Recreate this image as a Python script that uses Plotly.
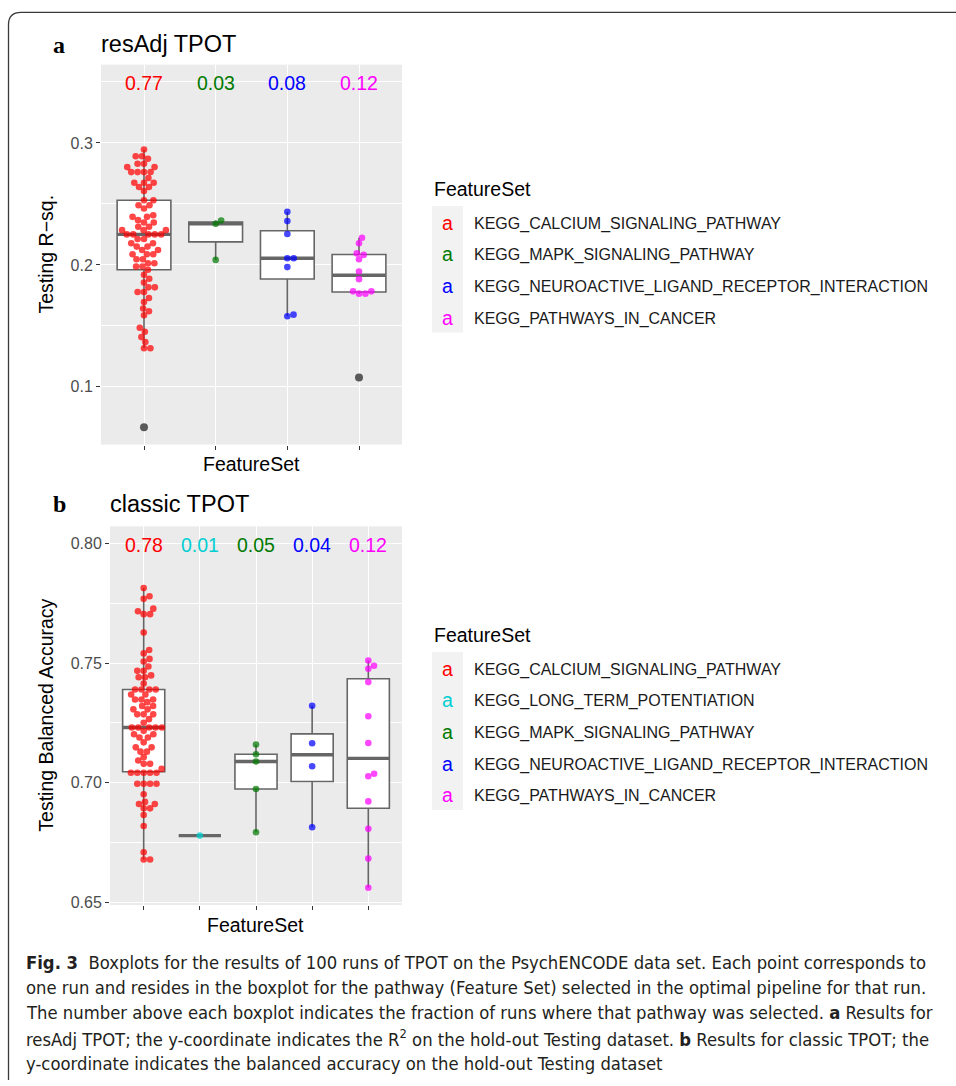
import math
import numpy as np
import plotly.graph_objects as go

# ---------------- data ----------------
PATHWAYS_A = ["KEGG_CALCIUM_SIGNALING_PATHWAY", "KEGG_MAPK_SIGNALING_PATHWAY",
              "KEGG_NEUROACTIVE_LIGAND_RECEPTOR_INTERACTION", "KEGG_PATHWAYS_IN_CANCER"]
PATHWAYS_B = ["KEGG_CALCIUM_SIGNALING_PATHWAY", "KEGG_LONG_TERM_POTENTIATION", "KEGG_MAPK_SIGNALING_PATHWAY",
              "KEGG_NEUROACTIVE_LIGAND_RECEPTOR_INTERACTION", "KEGG_PATHWAYS_IN_CANCER"]

FRACTION_A = ["0.77", "0.03", "0.08", "0.12"]
FRACTION_B = ["0.78", "0.01", "0.05", "0.04", "0.12"]

RESADJ_CALCIUM = [0.0669, 0.1316, 0.1316, 0.1367, 0.1408, 0.1452, 0.1484, 0.1587, 0.1620, 0.1642,
                  0.1696, 0.1729, 0.1778, 0.1778, 0.1816, 0.1816, 0.1856, 0.1886, 0.1919, 0.1960,
                  0.1987, 0.1987, 0.2014, 0.2014, 0.2046, 0.2046, 0.2087, 0.2087, 0.2087, 0.2122,
                  0.2122, 0.2150, 0.2150, 0.2177, 0.2177, 0.2212, 0.2212, 0.2250, 0.2250, 0.2250,
                  0.2250, 0.2250, 0.2285, 0.2285, 0.2285, 0.2313, 0.2313, 0.2348, 0.2348, 0.2367,
                  0.2394, 0.2394, 0.2407, 0.2462, 0.2489, 0.2489, 0.2530, 0.2530, 0.2606, 0.2639,
                  0.2639, 0.2674, 0.2674, 0.2674, 0.2712, 0.2761, 0.2761, 0.2761, 0.2761, 0.2802,
                  0.2802, 0.2829, 0.2829, 0.2870, 0.2891, 0.2891, 0.2946]
RESADJ_MAPK = [0.2041, 0.2337, 0.2364]
RESADJ_NEURO = [0.1579, 0.1592, 0.1982, 0.2055, 0.2055, 0.2253, 0.2359, 0.2435]
RESADJ_CANCER = [0.1077, 0.1764, 0.1764, 0.1783, 0.1783, 0.1883, 0.1946, 0.2046, 0.2082, 0.2095,
                 0.2177, 0.2223]

CLASSIC_CALCIUM = [0.6679, 0.6679, 0.6709, 0.6819, 0.6865, 0.6893, 0.6893, 0.6911, 0.6911, 0.6920,
                   0.6952, 0.6996, 0.6996, 0.6996, 0.6996, 0.7042, 0.7042, 0.7042, 0.7042, 0.7042,
                   0.7058, 0.7079, 0.7079, 0.7093, 0.7107, 0.7130, 0.7130, 0.7148, 0.7148, 0.7169,
                   0.7189, 0.7189, 0.7203, 0.7203, 0.7217, 0.7231, 0.7231, 0.7231, 0.7231, 0.7231,
                   0.7251, 0.7266, 0.7286, 0.7286, 0.7286, 0.7307, 0.7307, 0.7321, 0.7321, 0.7337,
                   0.7348, 0.7348, 0.7348, 0.7369, 0.7369, 0.7390, 0.7390, 0.7390, 0.7390, 0.7415,
                   0.7441, 0.7441, 0.7449, 0.7468, 0.7468, 0.7486, 0.7507, 0.7518, 0.7541, 0.7555,
                   0.7628, 0.7705, 0.7705, 0.7717, 0.7728, 0.7769, 0.7780, 0.7814]
CLASSIC_LTP = [0.6779]
CLASSIC_MAPK = [0.6793, 0.6974, 0.7089, 0.7119, 0.7160]
CLASSIC_NEURO = [0.6814, 0.7069, 0.7165, 0.7322]
CLASSIC_CANCER = [0.6561, 0.6683, 0.6808, 0.6922, 0.7027, 0.7038, 0.7166, 0.7278, 0.7421, 0.7477,
                  0.7489, 0.7511]

GROUPS_A = [RESADJ_CALCIUM, RESADJ_MAPK, RESADJ_NEURO, RESADJ_CANCER]
GROUPS_B = [CLASSIC_CALCIUM, CLASSIC_LTP, CLASSIC_MAPK, CLASSIC_NEURO, CLASSIC_CANCER]

COLOR = {
    "KEGG_CALCIUM_SIGNALING_PATHWAY": "#FF0000",
    "KEGG_LONG_TERM_POTENTIATION": "#00CED1",
    "KEGG_MAPK_SIGNALING_PATHWAY": "#007A00",
    "KEGG_NEUROACTIVE_LIGAND_RECEPTOR_INTERACTION": "#0000FF",
    "KEGG_PATHWAYS_IN_CANCER": "#FF00FF",
}

# ---------------- layout geometry (pixels) ----------------
W, H = 956, 1086
def fx(p):
    return p / W
def fy(p):
    return 1 - p / H

PANEL_A = dict(x0=101, x1=402, y0=65, y1=447, yr=[0.0527, 0.3642], xr=[0.4, 4.6])
PANEL_B = dict(x0=110, x1=402, y0=529.3, y1=910, yr=[0.6489, 0.8072], xr=[0.4, 5.6])

FONT = "Liberation Sans, Arial, sans-serif"


def rgba(hexc, a):
    h = hexc.lstrip("#")
    return "rgba(%d,%d,%d,%.2f)" % (int(h[0:2], 16), int(h[2:4], 16), int(h[4:6], 16), a)


def swarm(vals, ypx, xpx, d):
    order = sorted(range(len(vals)), key=lambda i: vals[i])
    placed = []
    out = [0.0] * len(vals)
    for i in order:
        y = vals[i] * ypx
        cands = [0.0]
        for (px, py) in placed:
            dy = abs(y - py)
            if dy < d:
                dx = math.sqrt(d * d - dy * dy)
                cands += [px + dx, px - dx]
        cands.sort(key=lambda c: (abs(c), -c))
        chosen = 0.0
        for c in cands:
            if all((c - px) ** 2 + (y - py) ** 2 >= d * d - 1e-6 for px, py in placed):
                chosen = c
                break
        placed.append((chosen, y))
        out[i] = chosen / xpx
    return out


fig = go.Figure()


def add_panel(groups, names, fractions, panel, xa, ya, label_y):
    ypx = (panel["y1"] - panel["y0"]) / (panel["yr"][1] - panel["yr"][0])
    xpx = (panel["x1"] - panel["x0"]) / (panel["xr"][1] - panel["xr"][0])
    for k, (vals, name) in enumerate(zip(groups, names)):
        pos = k + 1
        v = np.array(vals)
        q1, med, q3 = np.percentile(v, [25, 50, 75])
        iqr = q3 - q1
        lo_f, hi_f = q1 - 1.5 * iqr, q3 + 1.5 * iqr
        inside = v[(v >= lo_f) & (v <= hi_f)]
        outl = v[(v < lo_f) | (v > hi_f)]
        fig.add_trace(go.Box(x=[pos], q1=[q1], median=[med], q3=[q3],
                             lowerfence=[inside.min()], upperfence=[inside.max()],
                             width=0.75, whiskerwidth=0, fillcolor="white",
                             line=dict(color="#666666", width=1.6), boxpoints=False,
                             showlegend=False, hoverinfo="skip", xaxis=xa, yaxis=ya))
        fig.add_trace(go.Scatter(x=[pos - 0.375, pos + 0.375], y=[med, med], mode="lines",
                                 line=dict(color="#666666", width=3.4), showlegend=False,
                                 hoverinfo="skip", xaxis=xa, yaxis=ya))
        if len(outl):
            fig.add_trace(go.Scatter(x=[pos] * len(outl), y=list(outl), mode="markers",
                                     marker=dict(color="#595959", size=8), showlegend=False,
                                     hoverinfo="skip", xaxis=xa, yaxis=ya))
        offs = swarm(list(inside), ypx, xpx, 6.4)
        fig.add_trace(go.Scatter(x=[pos + o for o in offs], y=list(inside), mode="markers",
                                 marker=dict(color=rgba(COLOR[name], 0.72), size=6.6, line=dict(width=0)),
                                 showlegend=False, hoverinfo="skip", xaxis=xa, yaxis=ya))
        fig.add_annotation(x=pos, y=label_y, xref=xa, yref=ya, text=fractions[k], showarrow=False,
                           yshift=-1,
                           font=dict(family=FONT, size=19.5, color=COLOR[name]))


add_panel(GROUPS_A, PATHWAYS_A, FRACTION_A, PANEL_A, "x", "y", 0.35)
add_panel(GROUPS_B, PATHWAYS_B, FRACTION_B, PANEL_B, "x2", "y2", 0.80)

tickfont = dict(family=FONT, size=16, color="#4D4D4D")
common_x = dict(showgrid=True, gridcolor="white", gridwidth=1.3, zeroline=False, ticks="outside",
                ticklen=4, tickwidth=1.1, tickcolor="#333333", showline=False, showticklabels=False)
common_y = dict(showgrid=True, gridcolor="white", gridwidth=1.3, zeroline=False, ticks="outside",
                ticklen=4, tickwidth=1.1, tickcolor="#333333", showline=False, tickfont=tickfont)

fig.update_layout(
    width=W, height=H, margin=dict(l=0, r=0, t=0, b=0),
    paper_bgcolor="white", plot_bgcolor="#EBEBEB", showlegend=False,
    xaxis=dict(domain=[fx(PANEL_A["x0"]), fx(PANEL_A["x1"])], range=PANEL_A["xr"],
               tickvals=list(range(1, 5)), anchor="y", **common_x),
    yaxis=dict(domain=[fy(PANEL_A["y1"]), fy(PANEL_A["y0"])], range=PANEL_A["yr"],
               tickvals=[0.1, 0.2, 0.3], ticktext=["0.1", "0.2", "0.3"], anchor="x",
               minor=dict(tickvals=[0.15, 0.25, 0.35], showgrid=True, gridcolor="white", gridwidth=0.6, ticks=""),
               **common_y),
    xaxis2=dict(domain=[fx(PANEL_B["x0"]), fx(PANEL_B["x1"])], range=PANEL_B["xr"],
                tickvals=list(range(1, 6)), anchor="y2", **common_x),
    yaxis2=dict(domain=[fy(PANEL_B["y1"]), fy(PANEL_B["y0"])], range=PANEL_B["yr"],
                tickvals=[0.65, 0.70, 0.75, 0.80], ticktext=["0.65", "0.70", "0.75", "0.80"], anchor="x2",
                minor=dict(tickvals=[0.675, 0.725, 0.775], showgrid=True, gridcolor="white", gridwidth=0.6, ticks=""),
                **common_y),
)

ann = []
def text(x, y, s, size, color="black", family=FONT, xanchor="left", angle=0, dy=2):
    ann.append(dict(x=fx(x), y=fy(y + dy), xref="paper", yref="paper", text=s, showarrow=False,
                    xanchor=xanchor, yanchor="middle", textangle=angle,
                    font=dict(family=family, size=size, color=color)))

SERIF = "Liberation Serif, Times New Roman, serif"
# panel labels and titles
text(51, 43, "<b>a</b>", 24, family=SERIF)
text(99, 42, "resAdj TPOT", 23.5)
text(51, 505, "<b>b</b>", 24, family=SERIF)
text(108, 505, "classic TPOT", 23.5)
# axis titles
text(46, (PANEL_A["y0"] + PANEL_A["y1"]) / 2, "Testing R\u2212sq.", 19.5, xanchor="center", angle=-90, dy=0)
text(46, (PANEL_B["y0"] + PANEL_B["y1"]) / 2, "Testing Balanced Accuracy", 19.5, xanchor="center", angle=-90, dy=0)
text((PANEL_A["x0"] + PANEL_A["x1"]) / 2, 465, "FeatureSet", 19.5, xanchor="center")
text((PANEL_B["x0"] + PANEL_B["x1"]) / 2, 928, "FeatureSet", 19.5, xanchor="center")

shapes = []
def legend(names, top_title, first_y, step):
    text(432, top_title, "FeatureSet", 19.5)
    n = len(names)
    shapes.append(dict(type="rect", xref="paper", yref="paper", x0=fx(432), x1=fx(463),
                       y0=fy(first_y - step / 2 + n * step), y1=fy(first_y - step / 2),
                       fillcolor="#F2F2F2", line=dict(width=0), layer="below"))
    for i, nm in enumerate(names):
        yy = first_y + i * step
        text(447.5, yy - 1, "a", 19.5, color=COLOR[nm], xanchor="center")
        text(472, yy, nm, 16, color="#1A1A1A")

legend(PATHWAYS_A, 188, 223, 31.8)
legend(PATHWAYS_B, 637, 671.5, 31.8)

# caption
CAP = "Liberation Sans Narrow, DejaVu Sans Condensed, sans-serif"
cap_lines = [
    "<b>Fig. 3</b>  Boxplots for the results of 100 runs of TPOT on the PsychENCODE data set. Each point corresponds to",
    "one run and resides in the boxplot for the pathway (Feature Set) selected in the optimal pipeline for that run.",
    "The number above each boxplot indicates the fraction of runs where that pathway was selected. <b>a</b> Results for",
    "resAdj TPOT; the y-coordinate indicates the R<sup>2</sup> on the hold-out Testing dataset. <b>b</b> Results for classic TPOT; the",
    "y-coordinate indicates the balanced accuracy on the hold-out Testing dataset",
]
for i, line in enumerate(cap_lines):
    text(24, 963 + i * 25.3, line, 18.3, color="#231F20", family=CAP, dy=5)

# frame
shapes.append(dict(type="path", xref="paper", yref="paper",
                   path="M %f,%f L %f,%f Q %f,%f %f,%f L %f,%f" % (
                       fx(8.5), fy(1086), fx(8.5), fy(25), fx(8.5), fy(12.5), fx(21), fy(12.5), fx(960), fy(12.5)),
                   line=dict(color="#3A3A3A", width=1.3)))

fig.update_layout(annotations=list(fig.layout.annotations) + ann, shapes=shapes)

fig.write_html("out.html", config={"displayModeBar": False},
               post_script="document.body.style.margin='0';")
